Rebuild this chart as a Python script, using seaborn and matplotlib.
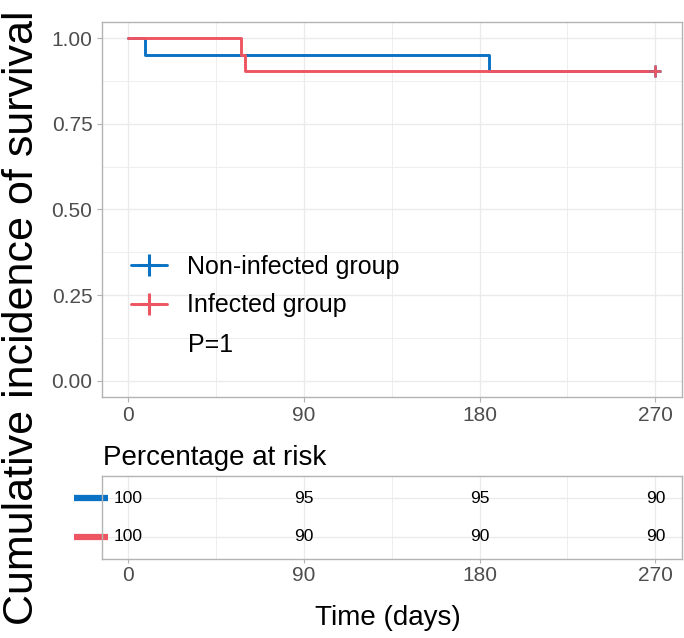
import pandas as pd
import matplotlib.pyplot as plt
import seaborn as sns
from matplotlib.lines import Line2D
from matplotlib.transforms import blended_transform_factory

# Kaplan-Meier steps
groups = ['Non-infected group', 'Infected group']
colors = ['#0A72C4', '#EE5562']

blue_time = [0, 9, 185, 270]
blue_surv = [1.0, 0.952, 0.905, 0.905]
red_time = [0, 58, 60, 270]
red_surv = [1.0, 0.952, 0.905, 0.905]

# percentage at risk table
risk_times = [0, 90, 180, 270]
blue_risk = [100, 95, 95, 90]
red_risk = [100, 90, 90, 90]

x_ticks = [0, 90, 180, 270]
y_ticks = [0.0, 0.25, 0.5, 0.75, 1.0]

df = pd.concat([
    pd.DataFrame({'time': blue_time, 'surv': blue_surv, 'group': groups[0]}),
    pd.DataFrame({'time': red_time, 'surv': red_surv, 'group': groups[1]}),
])

sns.set_theme(style="whitegrid")
plt.rcParams['font.family'] = ['Liberation Sans', 'DejaVu Sans']
plt.rcParams['text.color'] = 'black'

W, H = 684, 638
fig = plt.figure(figsize=(W / 100, H / 100), dpi=100)

def frac(l, t, r, b):
    return [l / W, 1 - b / H, (r - l) / W, (b - t) / H]

grid_c = '#EBEBEB'
border_c = '#B3B3B3'
tick_c = '#4D4D4D'

def style(ax):
    for s in ax.spines.values():
        s.set_color(border_c)
        s.set_linewidth(1.0)
    ax.grid(True, which='major', color=grid_c, linewidth=1.0)
    ax.grid(True, which='minor', color=grid_c, linewidth=0.6)
    ax.set_axisbelow(True)

# ---------------- main survival panel ----------------
ax = fig.add_axes(frac(101.5, 22, 681.7, 397))
sns.lineplot(data=df, x='time', y='surv', hue='group', hue_order=groups,
             palette=colors, drawstyle='steps-post', linewidth=2.1,
             estimator=None, sort=False, legend=False, ax=ax)
# censor marks at last time
ax.plot(blue_time[-1], blue_surv[-1], marker='+', color=colors[0], markersize=8, mew=1.8)
ax.plot(red_time[-1], red_surv[-1], marker='+', color=colors[1], markersize=8, mew=1.8)

ax.set_xlim(-13.5, 283.5)
ax.set_ylim(-0.047, 1.047)
ax.set_xticks(x_ticks)
ax.set_xticks([45, 135, 225], minor=True)
ax.set_yticks(y_ticks)
ax.set_yticklabels(['0.00', '0.25', '0.50', '0.75', '1.00'])
ax.set_yticks([0.125, 0.375, 0.625, 0.875], minor=True)
ax.tick_params(axis='both', which='major', labelsize=15, labelcolor=tick_c,
               color=border_c, length=3.5, width=0.8, pad=3, bottom=True, left=True)
ax.tick_params(axis='both', which='minor', length=0)
ax.set_xlabel('')
ax.set_ylabel('')
style(ax)

handles = [Line2D([0], [0], color=c, lw=2.1, marker='+', markersize=16, mew=2.2) for c in colors]
ax.legend(handles, groups, loc='upper left', bbox_to_anchor=(0.05, 0.379),
          fontsize=18, frameon=False, handlelength=1.45, handletextpad=0.8,
          labelspacing=0.58, borderpad=0, borderaxespad=0, labelcolor='black')
ax.text(0.149, 0.139, 'P=1', transform=ax.transAxes, fontsize=18, va='center', ha='left')

# ---------------- risk table ----------------
tab = fig.add_axes(frac(101.5, 475.7, 681.7, 559.3))
rows = {2: blue_risk, 1: red_risk}
for y, vals in rows.items():
    for t, v in zip(risk_times, vals):
        tab.text(t, y, str(v), ha='center', va='center', fontsize=12.5, color='black')
tab.set_xlim(-13.5, 283.5)
tab.set_ylim(0.41, 2.59)
tab.set_xticks(x_ticks)
tab.set_xticks([45, 135, 225], minor=True)
tab.set_yticks([1, 2])
tab.set_yticklabels([])
tab.tick_params(axis='x', which='major', labelsize=15, labelcolor=tick_c,
                color=border_c, length=3, width=0.8, pad=2, bottom=True)
tab.tick_params(axis='y', length=0)
tab.tick_params(axis='both', which='minor', length=0)
style(tab)

trans = blended_transform_factory(tab.transAxes, tab.transData)
for y, c in zip([2, 1], colors):
    tab.plot([-0.047, 0.012], [y, y], color=c, lw=4.5, transform=trans,
             clip_on=False, solid_capstyle='butt')

fig.text(102.7 / W, 1 - 465 / H, 'Percentage at risk', fontsize=20, va='baseline', ha='left')
fig.text(388 / W, 1 - 618 / H, 'Time (days)', fontsize=20, va='center', ha='center')
fig.text(22 / W, 1 - 318 / H, 'Cumulative incidence of survival', fontsize=31,
         rotation=90, va='center', ha='center')

fig.savefig('out.png', dpi=100)
